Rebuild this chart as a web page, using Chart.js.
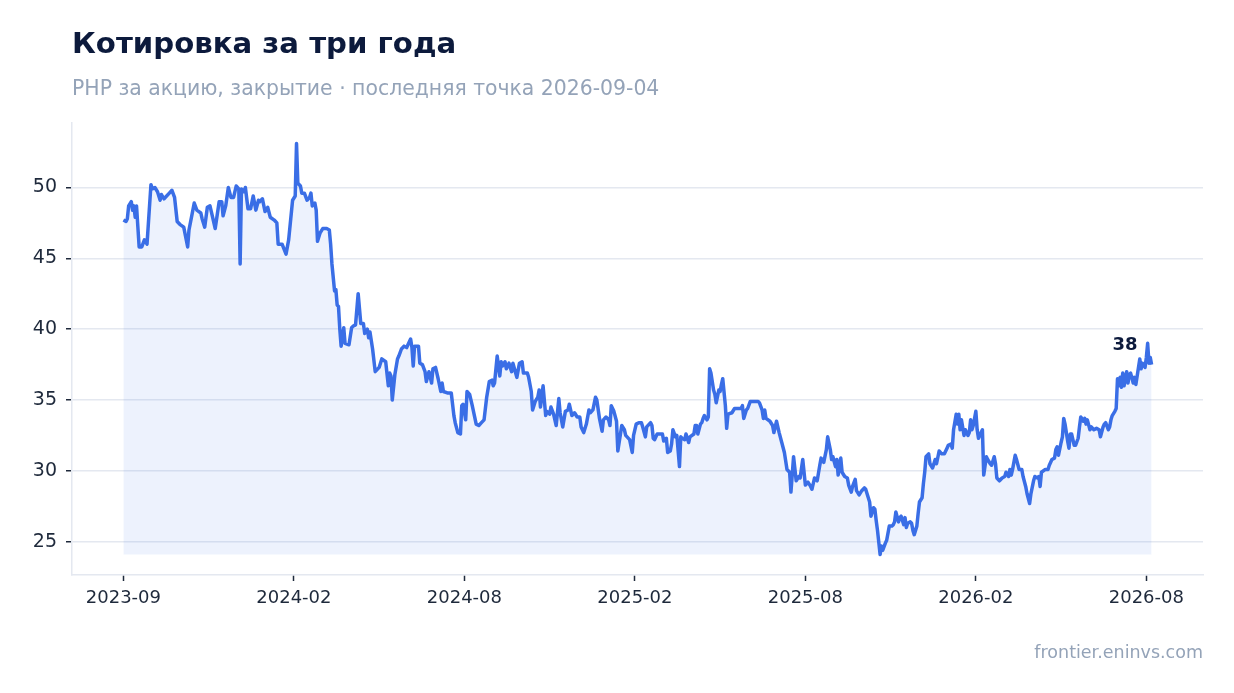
<!DOCTYPE html>
<html lang="ru">
<head>
<meta charset="utf-8">
<title>Котировка за три года</title>
<script src="https://cdn.jsdelivr.net/npm/chart.js@4.4.1/dist/chart.umd.min.js"></script>
<style>
    html, body { margin: 0; padding: 0; background: #fff; }
    body { width: 1234px; height: 693px; position: relative; overflow: hidden; font-family: "DejaVu Sans", sans-serif; }
    #chart-box { position: absolute; left: 0; top: 0; width: 1234px; height: 693px; }
    #title { position: absolute; left: 72px; top: 29px; font-size: 29.2px; font-weight: bold; line-height: 1; color: #0c1a3c; }
    #subtitle { position: absolute; left: 72px; top: 78px; font-size: 20.4px; line-height: 1; color: #94a3b8; }
    #source { position: absolute; right: 31px; top: 644px; font-size: 17.5px; line-height: 1; color: #94a3b8; }
</style>
</head>
<body>
<div id="chart-box"><canvas id="price-chart"></canvas></div>
<div id="title">Котировка за три года</div>
<div id="subtitle">PHP за акцию, закрытие · последняя точка 2026-09-04</div>
<div id="source">frontier.eninvs.com</div>

<script>
// Торговые дни (номер с начала периода) и цены закрытия
const tradingDays = [
    0, 2, 3, 4, 6, 7, 8, 9, 10, 12, 14, 16, 18, 21, 22, 24, 26, 28, 29, 31,
    35, 37, 39, 41, 43, 46, 49, 50, 54, 56, 59, 60, 62, 64, 66, 68, 70, 73, 75, 76,
    78, 80, 82, 84, 86, 88, 89, 90, 92, 93, 95, 97, 99, 101, 103, 104, 106, 108, 110, 112,
    115, 117, 118, 121, 124, 126, 129, 131, 132, 133, 135, 136, 138, 140, 142, 143, 144, 146, 147, 148,
    150, 152, 155, 157, 158, 159, 161, 162, 163, 164, 165, 166, 168, 169, 172, 174, 175, 177, 179, 181,
    183, 184, 186, 187, 188, 190, 192, 195, 197, 200, 202, 203, 204, 205, 207, 209, 210, 212, 214, 216,
    219, 220, 221, 222, 225, 226, 228, 230, 231, 233, 235, 236, 238, 240, 242, 243, 244, 247, 250, 252,
    253, 255, 257, 258, 259, 261, 262, 264, 266, 269, 271, 273, 275, 277, 279, 281, 282, 283, 285, 287,
    288, 289, 291, 292, 294, 296, 297, 300, 302, 304, 305, 308, 309, 311, 312, 314, 316, 317, 318, 320,
    322, 323, 325, 326, 328, 330, 332, 333, 335, 337, 339, 340, 342, 344, 346, 348, 349, 351, 353, 355,
    356, 358, 360, 361, 363, 365, 366, 368, 370, 371, 372, 374, 376, 377, 380, 382, 383, 386, 388, 389,
    391, 393, 395, 396, 398, 399, 402, 403, 404, 405, 407, 409, 411, 412, 414, 415, 417, 418, 419, 421,
    422, 424, 425, 426, 428, 429, 431, 432, 435, 436, 437, 438, 440, 441, 442, 443, 445, 446, 447, 448,
    450, 451, 452, 454, 455, 456, 457, 459, 460, 461, 464, 466, 469, 471, 472, 473, 475, 476, 478, 480,
    482, 484, 485, 487, 488, 489, 490, 493, 495, 496, 498, 500, 502, 504, 505, 506, 508, 509, 511, 513,
    515, 516, 518, 520, 522, 524, 525, 527, 529, 531, 532, 534, 536, 537, 539, 540, 541, 543, 544, 545,
    547, 548, 550, 552, 553, 555, 556, 558, 559, 561, 563, 565, 566, 568, 569, 570, 572, 573, 574, 575,
    577, 578, 579, 581, 582, 584, 586, 587, 588, 589, 591, 592, 593, 595, 596, 597, 598, 600, 601, 602,
    603, 605, 606, 607, 609, 610, 611, 612, 614, 615, 617, 619, 620, 622, 624, 626, 628, 629, 631, 632,
    633, 635, 636, 637, 638, 639, 641, 642, 644, 645, 646, 647, 648, 650, 651, 652, 654, 655, 656, 658,
    659, 661, 662, 664, 665, 666, 668, 670, 672, 673, 675, 676, 677, 678, 680, 681, 683, 685, 686, 688,
    689, 691, 692, 694, 695, 697, 698, 699, 700, 703, 705, 706, 708, 710, 711, 712, 713, 715, 716, 717,
    718, 720, 721, 722, 723, 725, 726, 728, 729, 730, 732, 733, 734, 735, 737, 738, 740, 742, 744, 745,
    747, 748, 749, 751, 752, 753, 754, 756, 757, 758, 759, 760, 761, 762, 763, 765, 766, 767, 768, 770,
    771, 772, 774, 775, 776, 777, 779, 780, 781, 782, 783, 784
];

const closes = [
    47.7, 47.6, 47.8, 48.7, 49.0, 48.4, 48.7, 47.9, 48.7, 45.8, 45.8, 46.3, 46.0, 50.2, 49.9, 50.0, 49.7, 49.1, 49.5, 49.2,
    49.6, 49.8, 49.3, 47.6, 47.4, 47.2, 45.8, 47.0, 48.9, 48.4, 48.2, 47.8, 47.2, 48.6, 48.7, 47.9, 47.1, 49.0, 49.0, 48.0,
    48.7, 50.0, 49.3, 49.3, 50.1, 49.9, 44.6, 49.9, 49.7, 50.0, 48.5, 48.5, 49.4, 48.4, 49.1, 49.0, 49.2, 48.3, 48.6, 47.9,
    47.7, 47.5, 46.0, 46.0, 45.3, 46.3, 49.1, 49.4, 53.1, 50.3, 50.1, 49.6, 49.6, 49.1, 49.3, 49.6, 48.7, 48.9, 48.4, 46.2,
    46.8, 47.1, 47.1, 47.0, 46.0, 44.6, 42.7, 42.8, 41.7, 41.6, 40.0, 38.8, 40.1, 39.0, 38.9, 40.1, 40.2, 40.3, 42.5, 40.4,
    40.4, 39.7, 40.0, 39.4, 39.8, 38.6, 37.0, 37.3, 37.9, 37.7, 36.0, 36.9, 36.7, 35.0, 36.8, 37.9, 38.1, 38.6, 38.8, 38.7,
    39.3, 38.7, 37.4, 38.8, 38.8, 37.6, 37.5, 37.0, 36.3, 37.0, 36.2, 37.2, 37.3, 36.5, 35.6, 36.2, 35.6, 35.5, 35.5, 33.9,
    33.4, 32.7, 32.6, 34.6, 34.7, 33.6, 35.6, 35.4, 34.6, 33.3, 33.2, 33.4, 33.6, 35.2, 36.3, 36.4, 36.0, 36.2, 38.1, 36.7,
    37.7, 37.4, 37.7, 37.2, 37.6, 37.0, 37.6, 36.6, 37.6, 37.7, 36.9, 36.9, 36.6, 35.6, 34.3, 34.9, 35.2, 35.7, 34.5, 36.0,
    33.9, 34.2, 34.0, 34.5, 34.0, 33.2, 35.1, 34.1, 33.1, 34.2, 34.3, 34.7, 33.9, 34.1, 33.8, 33.8, 33.1, 32.7, 33.3, 34.3,
    34.1, 34.3, 35.2, 35.0, 33.7, 32.8, 33.6, 33.8, 33.6, 33.2, 34.6, 34.2, 33.5, 31.4, 33.2, 32.9, 32.5, 32.2, 31.3, 32.5,
    33.3, 33.4, 33.4, 33.1, 32.4, 33.1, 33.4, 33.2, 32.3, 32.2, 32.6, 32.6, 32.6, 32.1, 32.3, 31.3, 31.4, 31.9, 32.9, 32.4,
    32.5, 30.3, 32.4, 32.3, 32.2, 32.6, 32.0, 32.4, 32.6, 33.2, 33.2, 32.6, 33.3, 33.4, 33.7, 33.9, 33.6, 33.8, 37.2, 36.9,
    35.7, 35.4, 34.8, 35.7, 35.6, 36.1, 36.5, 34.6, 33.0, 34.0, 34.1, 34.4, 34.4, 34.4, 34.6, 33.7, 34.3, 34.4, 34.9, 34.9,
    34.9, 34.9, 34.8, 34.3, 33.7, 34.3, 33.7, 33.5, 33.2, 32.7, 33.5, 32.7, 32.0, 31.3, 30.7, 30.1, 29.9, 28.5, 31.0, 29.3,
    29.6, 29.5, 30.8, 29.0, 29.2, 28.9, 28.7, 29.5, 29.3, 30.4, 30.9, 30.6, 31.5, 32.4, 31.5, 30.8, 31.0, 30.3, 30.8, 29.7,
    30.9, 29.9, 29.6, 29.5, 29.0, 28.5, 28.9, 29.4, 28.6, 28.3, 28.6, 28.8, 28.7, 28.1, 27.8, 26.8, 27.4, 27.3, 26.5, 25.8,
    24.1, 24.7, 24.4, 24.9, 25.1, 26.1, 26.1, 26.2, 26.4, 27.1, 26.4, 26.7, 26.8, 26.2, 26.7, 26.0, 26.3, 26.4, 26.3, 25.8,
    25.5, 26.1, 27.0, 27.8, 28.1, 29.1, 29.9, 31.0, 31.2, 30.5, 30.2, 30.8, 30.5, 31.4, 31.2, 31.2, 31.6, 31.8, 31.9, 31.6,
    32.9, 34.0, 33.3, 34.0, 32.9, 33.6, 32.5, 32.9, 32.5, 32.7, 33.6, 32.9, 33.2, 34.2, 32.9, 32.3, 32.7, 32.9, 29.7, 31.0,
    30.8, 30.5, 30.4, 31.0, 30.5, 29.5, 29.3, 29.5, 29.6, 29.9, 29.6, 30.1, 29.7, 30.1, 31.1, 30.8, 30.1, 30.1, 29.6, 28.9,
    28.4, 27.7, 28.4, 29.3, 29.6, 29.5, 29.6, 28.9, 29.9, 30.1, 30.1, 30.4, 30.8, 30.9, 31.5, 31.7, 31.1, 32.0, 32.4, 33.7,
    33.3, 32.1, 31.6, 32.6, 32.6, 31.8, 31.8, 32.3, 33.1, 33.8, 33.5, 33.7, 33.3, 33.6, 32.9, 33.1, 32.9, 33.0, 32.9, 32.4,
    33.1, 33.3, 33.4, 32.9, 33.1, 33.6, 33.9, 34.2, 34.4, 36.5, 36.0, 36.6, 35.9, 36.9, 36.0, 37.0, 36.2, 36.8, 36.9, 36.2,
    36.6, 36.1, 37.3, 37.9, 37.2, 37.6, 37.3, 38.0, 39.0, 37.6, 38.0, 37.5
];

// Подписи оси X и торговые дни, на которых они стоят
const tickLabels = ['2023-09', '2024-02', '2024-08', '2025-02', '2025-08', '2026-02', '2026-08'];
const tickDays = [0, 130, 260, 390, 520, 650, 780];
const yTicks = [25, 30, 35, 40, 45, 50];

const lineColor = '#3a6ee6';
const fillColor = 'rgba(58, 106, 230, 0.09)';
const gridColor = '#e4e8f0';
const tickMarkColor = '#1e293b';
const labelColor = '#1e293b';

const points = tradingDays.map((d, i) => ({ x: d, y: closes[i] }));

const lo = Math.min(...closes);
const hi = Math.max(...closes);
const yPad = (hi - lo) * 0.05;
const lastDay = tradingDays[tradingDays.length - 1];
const xPad = lastDay * 0.05;

// Подпись последнего значения рядом с концом линии
const lastValueLabel = {
    id: 'lastValueLabel',
    afterDatasetsDraw(chart) {
        const meta = chart.getDatasetMeta(0);
        const pt = meta.data[meta.data.length - 1];
        const c = chart.ctx;
        c.save();
        c.font = 'bold 18px "DejaVu Sans"';
        c.fillStyle = '#0c1a3c';
        c.textAlign = 'right';
        c.textBaseline = 'alphabetic';
        c.fillText(String(Math.round(closes[closes.length - 1])), pt.x - 14, pt.y - 15);
        c.restore();
    }
};

const ctx = document.getElementById('price-chart').getContext('2d');
new Chart(ctx, {
    type: 'line',
    data: {
        datasets: [{
            data: points,
            borderColor: lineColor,
            borderWidth: 3.5,
            backgroundColor: fillColor,
            fill: { value: lo },
            pointRadius: 0,
            tension: 0,
            borderJoinStyle: 'round'
        }]
    },
    options: {
        responsive: true,
        maintainAspectRatio: false,
        animation: false,
        layout: { padding: { top: 123, right: 31, bottom: 78, left: 0 } },
        plugins: {
            legend: { display: false },
            tooltip: { enabled: false }
        },
        scales: {
            x: {
                type: 'linear',
                min: -xPad,
                max: lastDay + xPad,
                afterBuildTicks: scale => { scale.ticks = tickDays.map(v => ({ value: v })); },
                afterFit: scale => { scale.height = 40; },
                ticks: {
                    autoSkip: false,
                    maxRotation: 0,
                    padding: 7,
                    color: labelColor,
                    font: { family: 'DejaVu Sans', size: 18 },
                    callback: value => tickLabels[tickDays.indexOf(value)]
                },
                grid: {
                    drawOnChartArea: false,
                    drawTicks: true,
                    tickLength: 6,
                    tickColor: tickMarkColor,
                    tickWidth: 1.5
                },
                border: { color: gridColor, width: 1.5 }
            },
            y: {
                min: lo - yPad,
                max: hi + yPad,
                afterBuildTicks: scale => { scale.ticks = yTicks.map(v => ({ value: v })); },
                afterFit: scale => { scale.width = 72; },
                ticks: {
                    padding: 9,
                    color: labelColor,
                    font: { family: 'DejaVu Sans', size: 19 }
                },
                grid: {
                    color: gridColor,
                    lineWidth: 1.5,
                    tickLength: 6,
                    tickColor: tickMarkColor,
                    tickWidth: 1.5
                },
                border: { color: gridColor, width: 1.5 }
            }
        }
    },
    plugins: [lastValueLabel]
});
</script>
</body>
</html>
